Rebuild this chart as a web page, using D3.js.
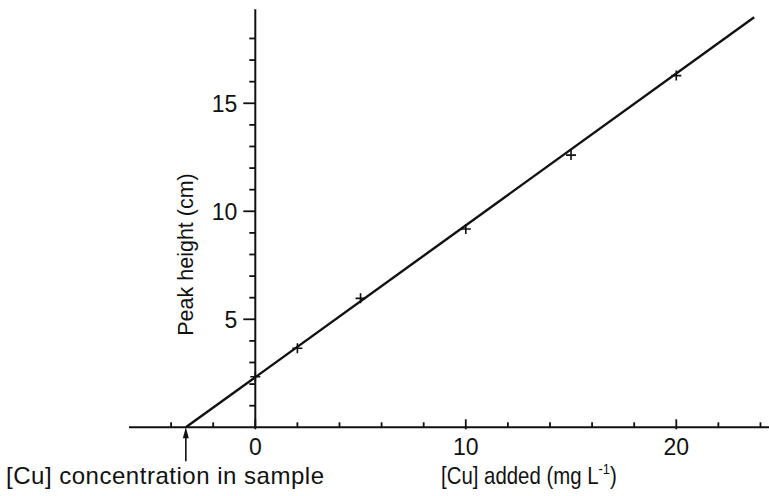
<!DOCTYPE html>
<html>
<head>
<meta charset="utf-8">
<script src="https://cdn.jsdelivr.net/npm/d3@7"></script>
<style>
  body { margin: 0; background: #fff; }
  svg text { font-family: "Liberation Sans", Arial, sans-serif; fill: #111; }
</style>
</head>
<body>
<div id="chart"></div>
<script>
// standard additions data
const cuAdded = [0, 2, 5, 10, 15, 20];
const peakHeight = [2.34, 3.66, 5.97, 9.18, 12.6, 16.28];
// fitted line, drawn from the x intercept to the top right corner
const fitLine = [[-3.3, 0], [23.7, 18.98]];
const sampleConc = -3.3;

const xMajor = [0, 10, 20];
const xMinor = [-4, -2, 2, 4, 6, 8, 12, 14, 16, 18, 22, 24];
const yMajor = [5, 10, 15];
const yMinor = [1, 2, 3, 4, 6, 7, 8, 9, 11, 12, 13, 14, 16, 17, 18];

const width = 769, height = 496;

const svg = d3.select("#chart").append("svg")
    .attr("width", width)
    .attr("height", height);

const x = d3.scaleLinear().domain([-6, 24.5]).range([129, 771]);
const y = d3.scaleLinear().domain([0, 19.35]).range([427.3, 9.3]);

const ink = "#111";

// x axis: ticks point up
const xAxisG = svg.append("g").attr("transform", `translate(0,${y(0)})`);
xAxisG.append("path")
    .attr("d", `M${x(-6)},0H${x(24.5)}`)
    .attr("stroke", ink).attr("stroke-width", 2);
xAxisG.selectAll(".minor").data(xMinor).enter().append("line")
    .attr("x1", d => x(d)).attr("x2", d => x(d))
    .attr("y1", 0).attr("y2", -5)
    .attr("stroke", ink).attr("stroke-width", 1.8);
xAxisG.selectAll(".major").data(xMajor).enter().append("line")
    .attr("x1", d => x(d)).attr("x2", d => x(d))
    .attr("y1", 2).attr("y2", -8)
    .attr("stroke", ink).attr("stroke-width", 1.8);
xAxisG.selectAll(".xlab").data(xMajor).enter().append("text")
    .attr("x", d => x(d))
    .attr("y", 28)
    .attr("text-anchor", "middle")
    .style("font-size", "23px")
    .text(d => d);

// y axis: ticks point left
const yAxisG = svg.append("g").attr("transform", `translate(${x(0)},0)`);
yAxisG.append("path")
    .attr("d", `M0,${y(0)}V${y(19.35)}`)
    .attr("stroke", ink).attr("stroke-width", 2);
yAxisG.selectAll(".minor").data(yMinor).enter().append("line")
    .attr("y1", d => y(d)).attr("y2", d => y(d))
    .attr("x1", 0).attr("x2", -6)
    .attr("stroke", ink).attr("stroke-width", 1.8);
yAxisG.selectAll(".major").data(yMajor).enter().append("line")
    .attr("y1", d => y(d)).attr("y2", d => y(d))
    .attr("x1", 0).attr("x2", -12)
    .attr("stroke", ink).attr("stroke-width", 1.8);
yAxisG.selectAll(".ylab").data(yMajor).enter().append("text")
    .attr("x", -18)
    .attr("y", d => y(d))
    .attr("dy", "0.36em")
    .attr("text-anchor", "end")
    .style("font-size", "23px")
    .text(d => d);

// Y-axis label
svg.append("text")
    .attr("transform", `translate(193,${y(8.0)}) rotate(-90)`)
    .attr("text-anchor", "middle")
    .style("font-size", "21.5px")
    .text("Peak height (cm)");

// fitted line
svg.append("path")
    .datum(fitLine)
    .attr("d", d3.line().x(d => x(d[0])).y(d => y(d[1])))
    .attr("fill", "none")
    .attr("stroke", ink)
    .attr("stroke-width", 2.4);

// data points as small crosses
const pts = cuAdded.map((c, i) => ({ c: c, h: peakHeight[i] }));
svg.selectAll(".pt").data(pts).enter().append("path")
    .attr("class", "pt")
    .attr("transform", d => `translate(${x(d.c)},${y(d.h)})`)
    .attr("d", "M-5,0H5M0,-5V5")
    .attr("stroke", ink)
    .attr("stroke-width", 1.6);

// arrow marking sample concentration
svg.append("line")
    .attr("x1", x(sampleConc)).attr("x2", x(sampleConc))
    .attr("y1", y(0) + 10).attr("y2", y(0) + 34)
    .attr("stroke", ink).attr("stroke-width", 1.6);
svg.append("path")
    .attr("transform", `translate(${x(sampleConc)},${y(0)})`)
    .attr("d", "M0,0L-3,11L3,11Z")
    .attr("fill", ink);

svg.append("text")
    .attr("x", 6)
    .attr("y", 484)
    .attr("textLength", 318)
    .attr("lengthAdjust", "spacing")
    .style("font-size", "24px")
    .text("[Cu] concentration in sample");

// x-axis title, narrowed to the width it has in the picture
const xl = svg.append("g")
    .attr("transform", "translate(441,484) scale(0.85,1)")
    .append("text")
    .style("font-size", "24px");
xl.append("tspan").text("[Cu] added (mg L");
xl.append("tspan").attr("dy", -10).style("font-size", "15px").text("-1");
xl.append("tspan").attr("dy", 10).text(")");
</script>
</body>
</html>
